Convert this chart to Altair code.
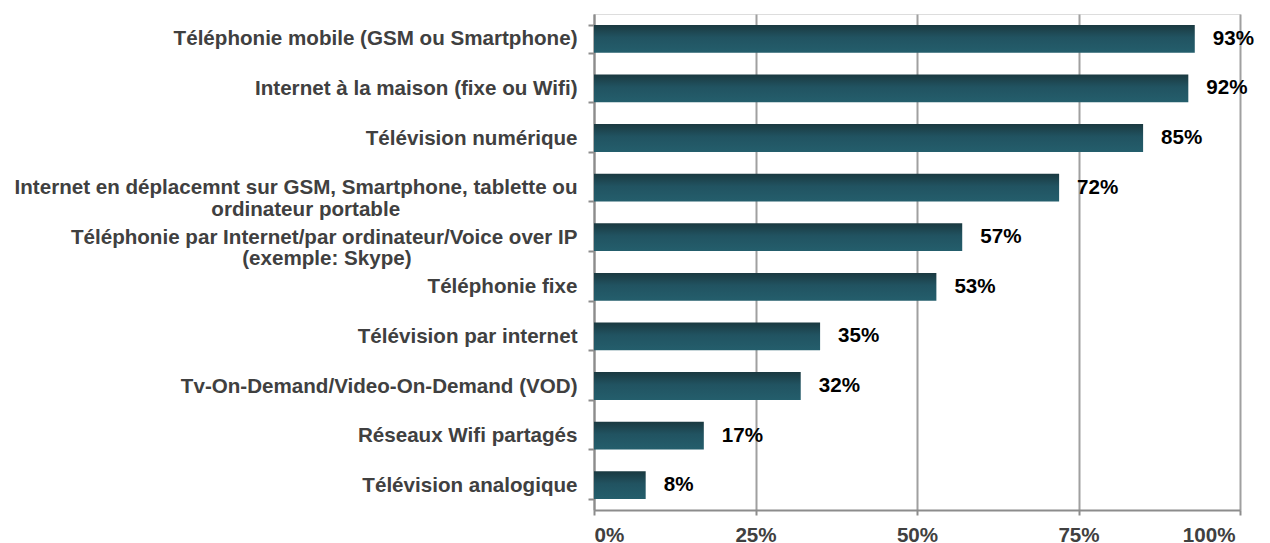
import altair as alt
import pandas as pd

categories = [
    "Téléphonie mobile (GSM ou Smartphone)",
    "Internet à la maison (fixe ou Wifi)",
    "Télévision numérique",
    "Internet en déplacemnt sur GSM, Smartphone, tablette ou|ordinateur portable",
    "Téléphonie par Internet/par ordinateur/Voice over IP|(exemple: Skype)",
    "Téléphonie fixe",
    "Télévision par internet",
    "Tv-On-Demand/Video-On-Demand (VOD)",
    "Réseaux Wifi partagés",
    "Télévision analogique",
]
values = [93, 92, 85, 72, 57, 53, 35, 32, 17, 8]
x_ticks = [0, 25, 50, 75, 100]

# trailing non-breaking spaces (closed by a zero-width char so they are not trimmed)
# so that the second line sits centred under the first, as in the original
second_line_pad = {3: 31, 4: 29}

def display_label(i, cat):
    parts = cat.split("|")
    if len(parts) > 1:
        parts[1] = parts[1] + "\u00a0" * second_line_pad.get(i, 0) + "\u200b"
    return "|".join(parts)

labels = [display_label(i, c) for i, c in enumerate(categories)]

df = pd.DataFrame({
    "cat": labels,
    "value": values,
    "txt": [f"{v}%" for v in values],
})

FONT = "Liberation Sans"
FS = 20.6
GRID = "#a0a0a0"
AXIS = "#8c8c8c"
TEXT = "#404040"

gradient = alt.Gradient(
    gradient="linear",
    stops=[
        alt.GradientStop(color="#1a3940", offset=0),
        alt.GradientStop(color="#215361", offset=0.45),
        alt.GradientStop(color="#245e6c", offset=1),
    ],
    x1=0, x2=0, y1=0, y2=1,
)

y_enc = alt.Y(
    "cat:N",
    sort=labels,
    title=None,
    scale=alt.Scale(paddingInner=0.44, paddingOuter=0.22),
    axis=alt.Axis(
        labelExpr="split(datum.label, '|')",
        labelFont=FONT,
        labelFontSize=FS,
        labelFontWeight="bold",
        labelColor=TEXT,
        labelLineHeight=21.5,
        labelPadding=11,
        labelLimit=1000,
        tickSize=6,
        tickBand="extent",
        tickColor=AXIS,
        tickWidth=2,
        domainColor=AXIS,
        domainWidth=2,
        grid=False,
    ),
)

x_enc = alt.X(
    "value:Q",
    title=None,
    scale=alt.Scale(domain=[0, 100], nice=False),
    axis=alt.Axis(
        values=x_ticks,
        labelExpr="datum.value + '%'",
        labelFont=FONT,
        labelFontSize=FS,
        labelFontWeight="bold",
        labelColor=TEXT,
        labelPadding=10,
        labelOffset={"condition": {"test": "datum.value == 100", "value": -5}, "value": 0},
        tickSize=5,
        tickColor=AXIS,
        tickWidth=2,
        domainColor=AXIS,
        domainWidth=2,
        grid=True,
        gridColor=GRID,
        gridWidth=2,
    ),
)

bars = alt.Chart(df).mark_bar(color=gradient).encode(x=x_enc, y=y_enc)

text = alt.Chart(df).mark_text(
    align="left",
    baseline="middle",
    dx=18,
    font=FONT,
    fontSize=FS,
    fontWeight="bold",
    color="#000000",
).encode(x="value:Q", y=alt.Y("cat:N", sort=labels), text="txt:N")

chart = (
    alt.layer(bars, text)
    .properties(
        width=646,
        height=496,
        autosize=alt.AutoSizeParams(type="none"),
        padding={"left": 586, "top": 6, "right": 22, "bottom": 33},
    )
    .configure_view(stroke=None)
    .configure(background="white")
)

chart.save("out.html", embed_options={"renderer": "svg", "actions": False})
